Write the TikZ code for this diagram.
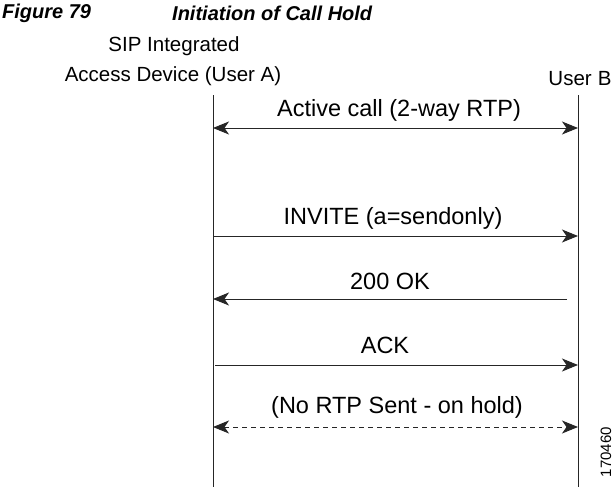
\documentclass[tikz,border=0pt]{standalone}
\usepackage{fontspec}
\setmainfont{Liberation Sans}
\usetikzlibrary{arrows.meta}
\begin{document}
\begin{tikzpicture}[x=1pt,y=-1pt,
  tip/.tip={Stealth[length=16pt,width=13pt,inset=4.5pt]},
  lifeline/.style={draw=black!85, line width=1pt},
  msg/.style={draw=black!85, line width=1pt, -tip},
  bimsg/.style={draw=black!85, line width=1pt, tip-tip},
  lbl/.style={font=\fontsize{23.5}{28}\selectfont, inner sep=0pt},
  head/.style={font=\fontsize{20.5}{24}\selectfont, inner sep=0pt},
  ttl/.style={font=\fontsize{20}{24}\selectfont\bfseries\itshape, inner sep=0pt, anchor=west}]
\useasboundingbox (0,0) rectangle (616,487);
% title
\node[ttl] (fig) at (2,13) {Figure 79};
\node[ttl] (title) at (172,13) {Initiation of Call Hold};
% participant labels
\node[head] (a1) at (174,46) {SIP Integrated};
\node[head] (a2) at (173,76) {Access Device (User A)};
\node[head] (b) at (580,79) {User\hspace{0.3em}B};
% lifelines
\coordinate (at) at (213,95); \coordinate (ab) at (213,487);
\coordinate (bt) at (578,95); \coordinate (bb) at (578,487);
\draw[lifeline] (at) -- (ab);
\draw[lifeline] (bt) -- (bb);
% message anchors
\coordinate (m1a) at (213,128); \coordinate (m1b) at (578,128);
\coordinate (m2a) at (214,236); \coordinate (m2b) at (578,236);
\coordinate (m3a) at (213,299); \coordinate (m3b) at (567,299);
\coordinate (m4a) at (215,365); \coordinate (m4b) at (578,365);
\coordinate (m5a) at (213,427); \coordinate (m5b) at (578,427);
\draw[bimsg] (m1a) -- (m1b);
\draw[msg] (m2a) -- (m2b);
\draw[msg] (m3b) -- (m3a);
\draw[msg] (m4a) -- (m4b);
\draw[bimsg, dashed, dash pattern=on 5pt off 4pt] (m5a) -- (m5b);
% labels
\node[lbl] (l1) at (399,110) {Active call (2-way RTP)};
\node[lbl] (l2) at (393,218) {INVITE (a=sendonly)};
\node[lbl] (l3) at (390,281) {200 OK};
\node[lbl] (l4) at (385,345) {ACK};
\node[lbl] (l5) at (397,407) {(No RTP Sent - on hold)};
\node[font=\fontsize{15}{18}\selectfont, inner sep=0pt, rotate=90] (id) at (606,452) {170460};
\end{tikzpicture}
\end{document}
